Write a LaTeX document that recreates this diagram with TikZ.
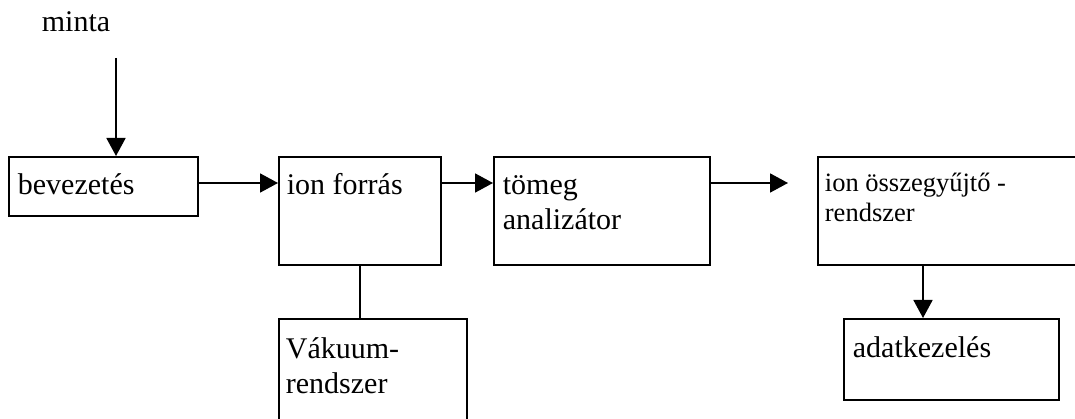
\documentclass[tikz,border=0pt]{standalone}
\usepackage{fontspec}
\setmainfont{Liberation Serif}
\usetikzlibrary{arrows.meta}

\begin{document}
\begin{tikzpicture}[x = 1pt, y = -1pt, line width = 1.8pt,
                        >={Triangle[length = 18pt, width = 19pt]},
                        box/.style = {draw, rectangle, anchor = north west, inner sep = 0pt},
                        txt/.style = {anchor = base west, inner sep = 0pt, align = left,
                                      font = \fontsize{30}{35}\selectfont},
                        small/.style = {txt, font = \fontsize{26.5}{30}\selectfont}]
    \useasboundingbox (0, 0) rectangle (1075, 419);
    \node [txt, anchor = base] (minta) at (76, 32) {minta};
    \node [box, minimum width = 189, minimum height = 59,
           label = {[txt, xshift = 9, yshift = -39]north west:bevezetés}] (bev) at (8, 156) {};
    \node [box, minimum width = 162, minimum height = 108,
           label = {[txt, xshift = 8, yshift = -39]north west:ion forrás}] (ion) at (278, 156) {};
    % two-line labels sit on their last line
    \node [box, minimum width = 216, minimum height = 108,
           label = {[txt, xshift = 9, yshift = -74]north west:tömeg\\analizátor}] (tom) at (493, 156) {};
    \node [box, minimum width = 280, minimum height = 108,
           label = {[small, xshift = 7, yshift = -66]north west:ion összegyűjtő -\\rendszer}] (coll) at (817, 156) {};
    \node [box, minimum width = 188, minimum height = 120,
           label = {[txt, xshift = 7, yshift = -75]north west:Vákuum-\\rendszer}] (vak) at (278, 318) {};
    \node [box, minimum width = 215, minimum height = 81,
           label = {[txt, xshift = 9, yshift = -39]north west:adatkezelés}] (adat) at (843, 318) {};
    \coordinate (mintaend) at (116, 58);
    \coordinate (row) at (0, 183);
    \coordinate (collin) at (788, 183);
    \draw [->] (mintaend) -- (mintaend |- bev.north);
    \draw [->] (bev.east |- row) -- (ion.west |- row);
    \draw [->] (ion.east |- row) -- (tom.west |- row);
    \draw [->] (tom.east |- row) -- (collin);
    \draw (ion.south) -- (ion.south |- vak.north);
    \draw [->] ([xshift = 106pt]coll.south west) coordinate (collout) -- (collout |- adat.north);
  \end{tikzpicture}
\end{document}
